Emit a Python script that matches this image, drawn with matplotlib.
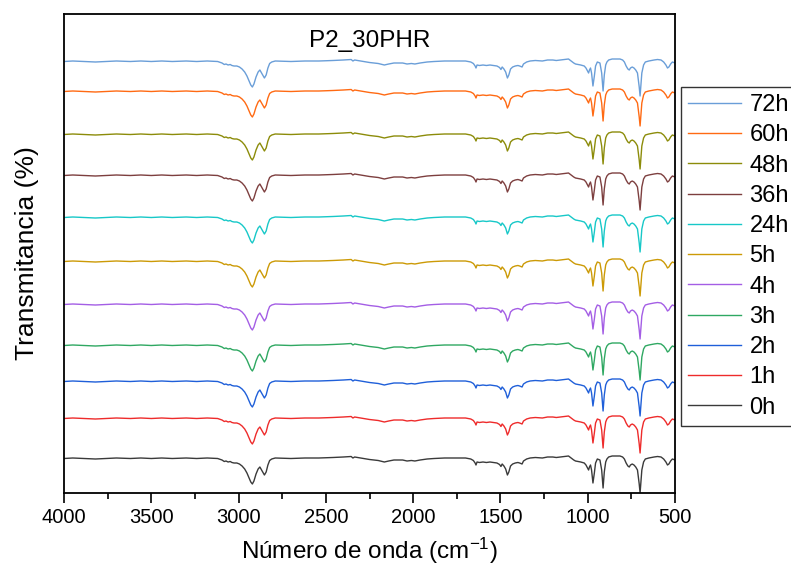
import matplotlib
matplotlib.use("Agg")
import matplotlib.pyplot as plt
import numpy as np

plt.rcParams['font.family'] = ['Liberation Sans', 'DejaVu Sans']
plt.rcParams['mathtext.fontset'] = 'custom'
plt.rcParams['mathtext.rm'] = 'Liberation Sans'
plt.rcParams['mathtext.it'] = 'Liberation Sans:italic'
plt.rcParams['mathtext.bf'] = 'Liberation Sans:bold'

# Common spectral profile (wavenumber in cm-1, absorption depth relative to baseline)
wavenumber = [
    4000, 3950, 3880, 3820, 3760, 3700, 3620, 3560, 3500, 3440, 3380, 3300,
    3240, 3180, 3120, 3095, 3082, 3072, 3060, 3048, 3038, 3026, 3010, 2995,
    2980, 2965, 2952, 2940, 2930, 2921, 2912, 2900, 2888, 2878, 2868, 2852,
    2842, 2832, 2822, 2810, 2790, 2700, 2620, 2540, 2460, 2400, 2355, 2345,
    2335, 2300, 2250, 2200, 2165, 2140, 2110, 2060, 2035, 2010, 1990, 1960,
    1920, 1880, 1820, 1760, 1700, 1670, 1655, 1645, 1640, 1634, 1620, 1600,
    1580, 1560, 1540, 1520, 1505, 1497, 1490, 1480, 1470, 1460, 1452, 1442,
    1430, 1415, 1400, 1390, 1376, 1368, 1350, 1330, 1300, 1260, 1230, 1200,
    1180, 1155, 1130, 1110, 1095, 1080, 1070, 1055, 1040, 1030, 1020, 1010,
    1001, 995, 990, 984, 978, 970, 962, 955, 945, 930, 920, 912,
    905, 897, 890, 880, 860, 840, 815, 800, 790, 780, 770, 762,
    755, 745, 735, 725, 715, 705, 700, 696, 690, 680, 670, 650,
    620, 600, 580, 565, 552, 543, 535, 525, 515, 500,
]
depth = [
    0.5, 0.0, 0.5, 1.0, 0.5, 0.0, 0.5, 0.0, 0.5, 0.0, 0.5, 0.0,
    0.5, 0.0, 0.5, 2.0, 3.5, 3.0, 4.0, 3.5, 4.5, 5.0, 5.0, 6.0,
    8.0, 11.0, 15.0, 20.0, 24.0, 26.0, 23.0, 16.0, 11.0, 9.0, 12.0, 17.0,
    14.0, 7.0, 2.5, 1.0, 0.0, 0.5, 0.0, 0.0, -0.5, -1.0, -1.5, 0.0,
    -1.0, 0.0, 1.5, 2.5, 4.0, 3.0, 2.0, 2.0, 3.0, 2.5, 3.0, 2.0,
    1.0, 0.5, 0.0, 0.0, 0.0, 1.0, 2.5, 5.0, 7.0, 4.0, 4.5, 4.0,
    4.5, 4.0, 4.5, 5.0, 6.5, 8.5, 6.0, 8.0, 11.0, 17.0, 14.0, 8.0,
    6.0, 5.0, 4.5, 5.0, 6.0, 3.0, 1.0, 0.0, -0.5, 0.0, -1.0, -1.0,
    -0.5, -1.0, -1.5, -2.0, 0.0, 2.0, 3.0, 3.5, 4.0, 4.5, 5.0, 7.0,
    10.0, 12.0, 9.0, 7.0, 12.0, 25.0, 15.0, 5.0, 1.0, 2.0, 12.0, 30.0,
    14.0, 4.0, 1.0, -1.0, -2.0, -2.0, -2.0, -1.0, 1.0, 5.0, 8.0, 9.0,
    7.0, 6.0, 7.0, 9.0, 12.0, 26.0, 35.0, 26.0, 12.0, 4.0, 1.0, 0.0,
    -1.0, -1.5, -1.0, 1.0, 4.0, 7.0, 6.0, 3.0, 1.0, 2.0,
]

# Curing times and vertical offsets of the stacked spectra
labels = ['0h', '1h', '2h', '3h', '4h', '5h', '24h', '36h', '48h', '60h', '72h']
offsets = [-65, -25, 12, 48, 89, 132, 176, 218, 259, 302, 332]
colors = ['#3a3a3a', '#ee2b2b', '#1f5fd9', '#2fa862', '#a45ee5', '#cc9a06',
          '#17c8c8', '#7d3f3f', '#8c8c0a', '#ff6a13', '#6a9ed8']

wn = np.array(wavenumber)
trans = 100.0 - np.array(depth)

fig = plt.figure(figsize=(7.91, 5.71), dpi=100)
ax = fig.add_axes([64 / 791, 1 - 493 / 571, 611 / 791, 479 / 571])

handles = []
for lab, off, col in zip(labels, offsets, colors):
    h, = ax.plot(wn, trans + off, color=col, lw=1.0, label=lab)
    handles.append(h)

ax.set_xlim(4000, 500)
ax.set_ylim(0, 479)
ax.set_xticks(np.arange(4000, 499, -500))
ax.set_xticks(np.arange(3750, 500, -500), minor=True)
ax.tick_params(axis='x', which='major', direction='out', length=7, width=1.2,
               labelsize=14.5, pad=4)
ax.tick_params(axis='x', which='minor', direction='out', length=4, width=1.2)
ax.set_yticks([])
for s in ax.spines.values():
    s.set_linewidth(1.3)

ax.set_xlabel(r'Número de onda (cm$^{\mathregular{-1}}$)', fontsize=17.5,
              labelpad=6)
ax.set_ylabel('Transmitancia (%)', fontsize=19, labelpad=18)
ax.text(0.5, 1 - 27 / 479, 'P2_30PHR', transform=ax.transAxes,
        ha='center', va='center', fontsize=17.5)

leg = fig.legend(handles[::-1], labels[::-1], loc='upper left',
                 bbox_to_anchor=(681 / 791, 1 - 87 / 571), fontsize=17,
                 frameon=True, fancybox=False, edgecolor='black',
                 handlelength=2.25, handletextpad=0.35, labelspacing=0.35,
                 borderpad=0.3, borderaxespad=0)
leg.get_frame().set_linewidth(1.0)

fig.savefig('out.png', dpi=100)
